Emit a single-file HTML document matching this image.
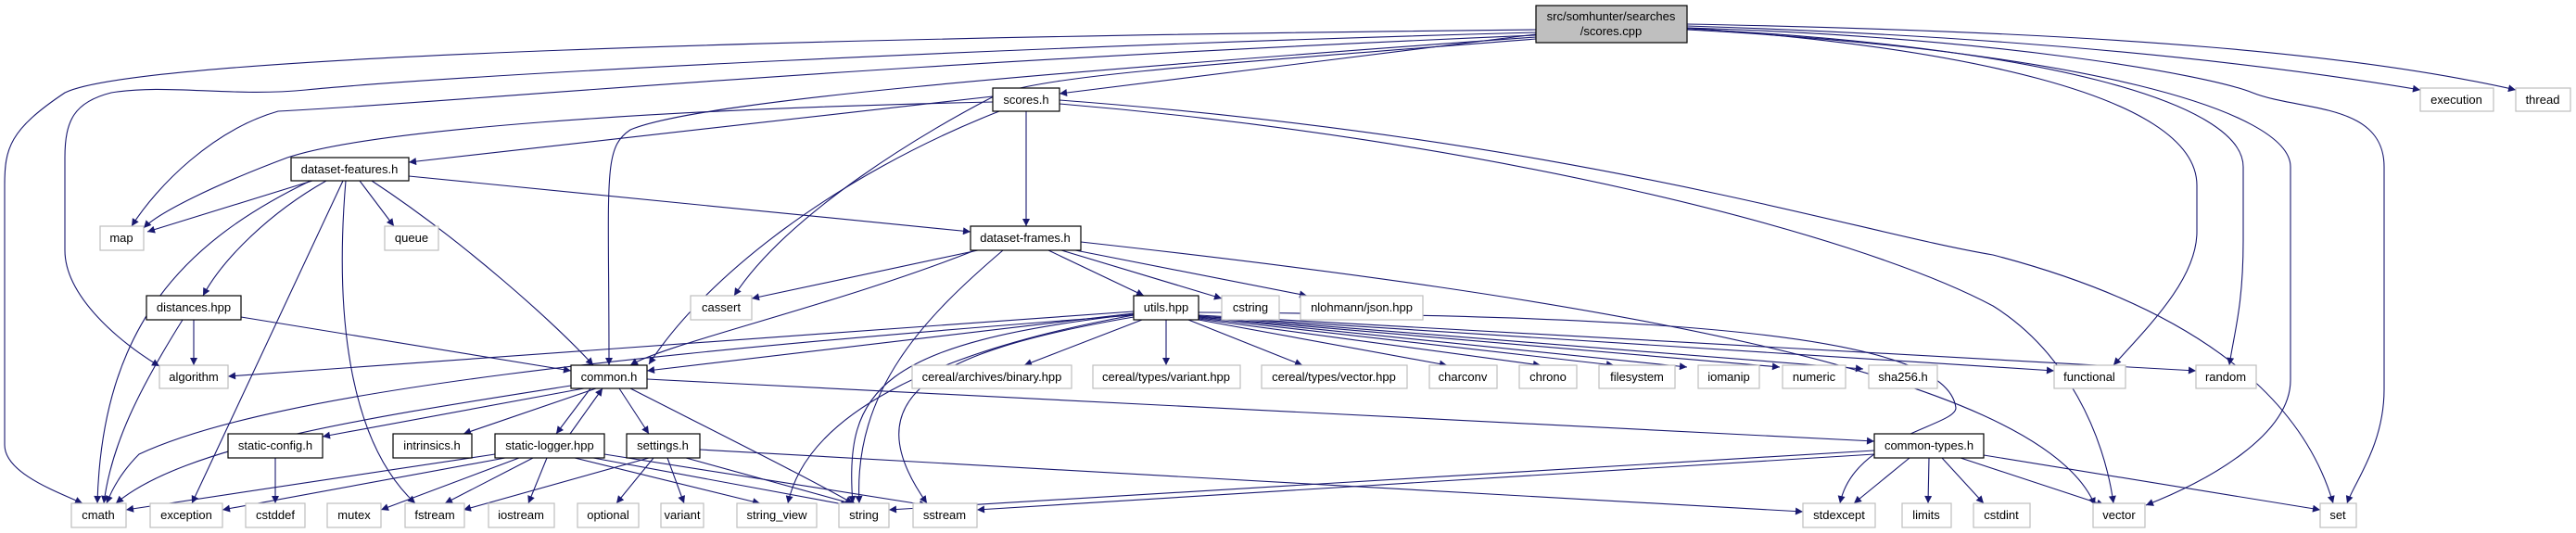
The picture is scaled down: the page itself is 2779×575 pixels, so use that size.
<!DOCTYPE html>
<html><head><meta charset="utf-8"><style>
html,body{margin:0;padding:0;background:#fff;}
svg{display:block;}
text{font-family:"Liberation Sans",sans-serif;font-size:13px;fill:#000;}
.e{fill:none;stroke:#191970;stroke-width:1.1;marker-end:url(#a);}
.n{fill:#fff;stroke:#000;stroke-width:1.2;}
.x{fill:#fff;stroke:#bfbfbf;stroke-width:1.2;}
</style></head><body>
<svg width="2779" height="575" viewBox="0 0 2779 575" xmlns="http://www.w3.org/2000/svg">
<defs><marker id="a" viewBox="0 0 10 10" refX="10" refY="5" markerWidth="10" markerHeight="8" markerUnits="userSpaceOnUse" orient="auto"><path d="M0,0 L10,5 L0,10 z" fill="#191970"/></marker></defs>
<g>
<path class="e" d="M1657,32 C900,40 150,60 70,100 C10,140 5,160 5,200 L5,480 C5,510 60,530 89,543"/>
<path class="e" d="M1657,35 C1100,50 500,80 330,97 C250,105 180,90 120,100 C80,110 70,130 70,170 L70,270 C70,320 130,370 172,395"/>
<path class="e" d="M1657,38 C900,70 500,110 300,120 C230,140 170,200 142,244"/>
<path class="e" d="M1657,40 C1100,80 750,110 680,140 C650,160 657,190 657,394"/>
<path class="e" d="M1657,42 C1300,70 1150,80 1080,100 C1000,140 850,230 792,319"/>
<path class="e" d="M1657,37 L1143,101"/>
<path class="e" d="M1820,28 C2200,40 2450,70 2611,97"/>
<path class="e" d="M1820,26 C2300,35 2550,60 2714,97"/>
<path class="e" d="M1820,30 C2100,50 2370,100 2370,200 L2370,250 C2370,300 2320,350 2280,394"/>
<path class="e" d="M1820,31 C2200,50 2420,110 2420,180 L2420,260 C2420,330 2410,360 2405,394"/>
<path class="e" d="M1820,32 C2250,55 2471,120 2471,180 L2471,410 C2471,470 2380,520 2315,545"/>
<path class="e" d="M1820,30 C2150,40 2380,80 2430,100 C2480,120 2572,110 2572,180 L2572,420 C2572,480 2540,520 2532,543"/>
<path class="e" d="M1071,110 C700,118 400,140 310,170 C230,200 170,230 155,246"/>
<path class="e" d="M1071,104 L441,175"/>
<path class="e" d="M1107,120 L1107,244"/>
<path class="e" d="M1078,120 C900,190 760,300 700,393"/>
<path class="e" d="M1143,112 C1600,150 2000,250 2150,330 C2230,380 2270,470 2280,543"/>
<path class="e" d="M1143,108 C1700,150 2000,250 2150,275 C2400,340 2490,450 2517,543"/>
<path class="e" d="M337,195 L159,250"/>
<path class="e" d="M388,195 L425,244"/>
<path class="e" d="M352,195 C290,230 240,280 219,319"/>
<path class="e" d="M335,195 C200,260 110,350 105,543"/>
<path class="e" d="M370,195 L207,543"/>
<path class="e" d="M373,195 C360,350 380,480 448,543"/>
<path class="e" d="M401,195 C500,260 600,350 640,394"/>
<path class="e" d="M441,190 L1047,250"/>
<path class="e" d="M209,345 L209,394"/>
<path class="e" d="M197,345 C150,420 120,480 112,543"/>
<path class="e" d="M260,342 L616,400"/>
<path class="e" d="M1055,270 L811,322"/>
<path class="e" d="M1052,270 C900,330 720,370 680,394"/>
<path class="e" d="M1082,270 C1000,340 920,420 927,543"/>
<path class="e" d="M1131,270 L1234,319"/>
<path class="e" d="M1145,270 L1318,322"/>
<path class="e" d="M1160,270 L1410,319"/>
<path class="e" d="M1166,261 C1700,320 2200,400 2260,545"/>
<path class="e" d="M1223,336 L246,406"/>
<path class="e" d="M1223,338 L698,400"/>
<path class="e" d="M1223,340 C700,380 300,420 150,490 C130,510 120,530 115,543"/>
<path class="e" d="M1223,339 C950,370 910,420 920,543"/>
<path class="e" d="M1223,340 C1000,380 870,450 850,543"/>
<path class="e" d="M1223,342 C1000,380 920,430 1000,543"/>
<path class="e" d="M1232,345 L1105,394"/>
<path class="e" d="M1258,345 L1258,394"/>
<path class="e" d="M1282,345 L1405,394"/>
<path class="e" d="M1293,345 L1561,394"/>
<path class="e" d="M1293,344 L1662,394"/>
<path class="e" d="M1293,343 L1741,394"/>
<path class="e" d="M1293,342 L1820,396"/>
<path class="e" d="M1293,342 L1920,396"/>
<path class="e" d="M1293,341 L2010,398"/>
<path class="e" d="M1293,341 L2216,400"/>
<path class="e" d="M1293,340 L2369,400"/>
<path class="e" d="M1293,337 C1800,340 2100,360 2110,440 C2110,460 2000,470 1985,543"/>
<path class="e" d="M616,416 C400,450 200,480 125,543"/>
<path class="e" d="M630,419 L348,471"/>
<path class="e" d="M643,419 L500,468"/>
<path class="e" d="M637,419 L600,468"/>
<path class="e" d="M615,468 L650,419"/>
<path class="e" d="M668,419 L700,468"/>
<path class="e" d="M680,419 C800,480 880,520 920,543"/>
<path class="e" d="M698,409 L2022,476"/>
<path class="e" d="M297,494 L297,543"/>
<path class="e" d="M534,490 L136,550"/>
<path class="e" d="M545,494 L240,550"/>
<path class="e" d="M560,494 L411,550"/>
<path class="e" d="M575,494 L480,543"/>
<path class="e" d="M590,494 L570,543"/>
<path class="e" d="M620,494 L820,543"/>
<path class="e" d="M640,494 L915,545"/>
<path class="e" d="M652,490 L1000,545"/>
<path class="e" d="M700,494 L500,550"/>
<path class="e" d="M705,494 L665,543"/>
<path class="e" d="M720,494 L738,543"/>
<path class="e" d="M740,494 L925,545"/>
<path class="e" d="M755,485 L1945,552"/>
<path class="e" d="M2022,486 L959,550"/>
<path class="e" d="M2022,490 L1054,550"/>
<path class="e" d="M2060,494 L2000,543"/>
<path class="e" d="M2081,494 L2080,543"/>
<path class="e" d="M2095,494 L2140,543"/>
<path class="e" d="M2115,494 L2270,545"/>
<path class="e" d="M2140,491 L2503,550"/>
</g>
<g>
<rect x="1657" y="6" width="163" height="40" fill="#bfbfbf" stroke="#000" stroke-width="1.2"/>
<text x="1738" y="22" text-anchor="middle">src/somhunter/searches</text>
<text x="1738" y="38" text-anchor="middle">/scores.cpp</text>
</g>
<g text-anchor="middle">
<rect class="n" x="1071" y="95" width="72" height="25"/><text x="1107" y="112">scores.h</text>
<rect class="x" x="2611" y="95" width="79" height="25"/><text x="2650" y="112">execution</text>
<rect class="x" x="2714" y="95" width="59" height="25"/><text x="2743" y="112">thread</text>
<rect class="n" x="314" y="170" width="127" height="25"/><text x="377" y="187">dataset-features.h</text>
<rect class="x" x="108" y="244" width="47" height="26"/><text x="131" y="261">map</text>
<rect class="x" x="415" y="244" width="58" height="26"/><text x="444" y="261">queue</text>
<rect class="n" x="1047" y="244" width="119" height="26"/><text x="1106" y="261">dataset-frames.h</text>
<rect class="n" x="158" y="319" width="102" height="26"/><text x="209" y="336">distances.hpp</text>
<rect class="x" x="745" y="319" width="66" height="26"/><text x="778" y="336">cassert</text>
<rect class="n" x="1223" y="319" width="70" height="26"/><text x="1258" y="336">utils.hpp</text>
<rect class="x" x="1318" y="319" width="62" height="26"/><text x="1349" y="336">cstring</text>
<rect class="x" x="1403" y="319" width="132" height="26"/><text x="1469" y="336">nlohmann/json.hpp</text>
<rect class="x" x="172" y="394" width="74" height="25"/><text x="209" y="411">algorithm</text>
<rect class="n" x="616" y="394" width="82" height="25"/><text x="657" y="411">common.h</text>
<rect class="x" x="984" y="394" width="172" height="25"/><text x="1070" y="411">cereal/archives/binary.hpp</text>
<rect class="x" x="1179" y="394" width="159" height="25"/><text x="1258" y="411">cereal/types/variant.hpp</text>
<rect class="x" x="1361" y="394" width="157" height="25"/><text x="1439" y="411">cereal/types/vector.hpp</text>
<rect class="x" x="1542" y="394" width="73" height="25"/><text x="1578" y="411">charconv</text>
<rect class="x" x="1639" y="394" width="62" height="25"/><text x="1670" y="411">chrono</text>
<rect class="x" x="1725" y="394" width="82" height="25"/><text x="1766" y="411">filesystem</text>
<rect class="x" x="1832" y="394" width="66" height="25"/><text x="1865" y="411">iomanip</text>
<rect class="x" x="1923" y="394" width="68" height="25"/><text x="1957" y="411">numeric</text>
<rect class="x" x="2016" y="394" width="74" height="25"/><text x="2053" y="411">sha256.h</text>
<rect class="x" x="2216" y="394" width="77" height="25"/><text x="2254" y="411">functional</text>
<rect class="x" x="2369" y="394" width="65" height="25"/><text x="2401" y="411">random</text>
<rect class="n" x="246" y="468" width="102" height="26"/><text x="297" y="485">static-config.h</text>
<rect class="n" x="424" y="468" width="85" height="26"/><text x="466" y="485">intrinsics.h</text>
<rect class="n" x="534" y="468" width="118" height="26"/><text x="593" y="485">static-logger.hpp</text>
<rect class="n" x="676" y="468" width="79" height="26"/><text x="715" y="485">settings.h</text>
<rect class="n" x="2022" y="468" width="118" height="26"/><text x="2081" y="485">common-types.h</text>
<rect class="x" x="77" y="543" width="59" height="26"/><text x="106" y="560">cmath</text>
<rect class="x" x="162" y="543" width="78" height="26"/><text x="201" y="560">exception</text>
<rect class="x" x="265" y="543" width="64" height="26"/><text x="297" y="560">cstddef</text>
<rect class="x" x="353" y="543" width="58" height="26"/><text x="382" y="560">mutex</text>
<rect class="x" x="437" y="543" width="64" height="26"/><text x="469" y="560">fstream</text>
<rect class="x" x="527" y="543" width="71" height="26"/><text x="562" y="560">iostream</text>
<rect class="x" x="623" y="543" width="66" height="26"/><text x="656" y="560">optional</text>
<rect class="x" x="713" y="543" width="46" height="26"/><text x="736" y="560">variant</text>
<rect class="x" x="795" y="543" width="86" height="26"/><text x="838" y="560">string_view</text>
<rect class="x" x="905" y="543" width="54" height="26"/><text x="932" y="560">string</text>
<rect class="x" x="985" y="543" width="69" height="26"/><text x="1019" y="560">sstream</text>
<rect class="x" x="1945" y="543" width="78" height="26"/><text x="1984" y="560">stdexcept</text>
<rect class="x" x="2052" y="543" width="53" height="26"/><text x="2078" y="560">limits</text>
<rect class="x" x="2129" y="543" width="61" height="26"/><text x="2159" y="560">cstdint</text>
<rect class="x" x="2258" y="543" width="56" height="26"/><text x="2286" y="560">vector</text>
<rect class="x" x="2503" y="543" width="39" height="26"/><text x="2522" y="560">set</text>
</g>
</svg>
</body></html>
